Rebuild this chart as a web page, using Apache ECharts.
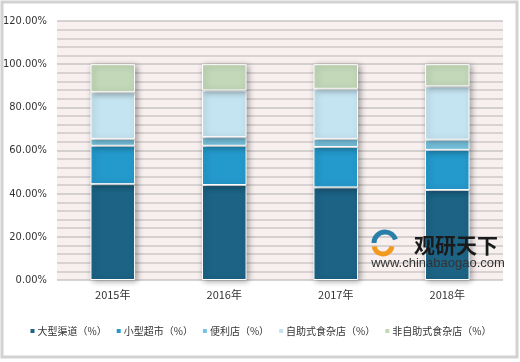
<!DOCTYPE html>
<html><head><meta charset="utf-8">
<script src="https://cdn.jsdelivr.net/npm/echarts@6/dist/echarts.min.js"></script>
<style>html,body{margin:0;padding:0;background:#fff}#c{width:520px;height:362px}</style>
</head><body><div id="c"></div>
<script>
var categories = ['2015年','2016年','2017年','2018年'];
var seriesNames = ['大型渠道（%）','小型超市（%）','便利店（%）','自助式食杂店（%）','非自助式食杂店（%）'];
var largeChannel = [44.4, 44.0, 42.9, 41.7];
var smallSupermarket = [17.8, 18.2, 18.7, 18.6];
var convenience = [3.2, 4.0, 3.8, 4.7];
var selfService = [21.6, 21.6, 23.2, 24.7];
var nonSelfService = [13.0, 12.2, 11.4, 10.3];

var colors = ['#1c6385','#2499cb','#79c4e0','#c5e4f1','#c3d8b9'];
var dataList = [largeChannel, smallSupermarket, convenience, selfService, nonSelfService];
var font = '"Noto Sans CJK SC", "DejaVu Sans", sans-serif';

var chart = echarts.init(document.getElementById('c'));
var series = dataList.map(function(d, i){
  return {
    name: seriesNames[i], type: 'bar', stack: 'total', data: d,
    barWidth: '40%',
    itemStyle: {color: colors[i], borderColor: '#ffffff', borderWidth: 1,
      shadowColor: 'rgba(0,0,0,0.35)', shadowBlur: 6, shadowOffsetX: 2, shadowOffsetY: 1}
  };
});
chart.setOption({
  animation: false,
  color: colors,
  grid: {left: 57, right: 17, top: 21, bottom: 82, backgroundColor: '#f8efef', show: true, borderWidth: 0},
  xAxis: {type: 'category', data: categories,
    axisLine: {show: false}, axisTick: {show: false},
    axisLabel: {color: '#333', fontSize: 11, fontFamily: font, margin: 9}},
  yAxis: {type: 'value', min: 0, max: 120, interval: 20,
    axisLine: {show: false}, axisTick: {show: false},
    axisLabel: {color: '#333', fontSize: 11, fontFamily: '"Liberation Sans Narrow", "DejaVu Sans Condensed", sans-serif', margin: 10,
      formatter: function(v){ return v.toFixed(2) + '%'; }},
    splitLine: {lineStyle: {color: '#c9c5c5', width: 1.5}},
    minorTick: {show: false, splitNumber: 5},
    minorSplitLine: {show: true, lineStyle: {color: '#cdc9c9', width: 1.5}}
  },
  legend: {top: 326, left: 'center', width: 510, padding: 0, itemWidth: 6, itemHeight: 6, itemGap: 8,
    icon: 'rect', textStyle: {color: '#333', fontSize: 10, fontFamily: font, padding: [0,0,0,-3]},
    data: seriesNames},
  series: series,
  graphic: [
    {type: 'rect', z: 100, shape: {x: 2, y: 2, width: 515, height: 355}, style: {fill: 'none', stroke: '#d2d2d2', lineWidth: 3}, silent: true},
    {type: 'arc', z: 100, shape: {cx: 385, cy: 243, r: 11, startAngle: Math.PI*1.0, endAngle: Math.PI*1.9}, style: {stroke: '#2a7fa8', lineWidth: 5, fill: 'none'}},
    {type: 'arc', z: 100, shape: {cx: 383, cy: 245, r: 9, startAngle: Math.PI*0.05, endAngle: Math.PI*0.95}, style: {stroke: '#f29a20', lineWidth: 5, fill: 'none'}},
    {type: 'text', z: 100, style: {x: 456, y: 245, text: '观研天下', fill: '#1a1a1a', font: 'bold 21px "Noto Sans CJK SC"', textAlign: 'center', textVerticalAlign: 'middle'}},
    {type: 'text', z: 100, style: {x: 438, y: 263, text: 'www.chinabaogao.com', fill: '#333', font: '13px "Liberation Sans", Arial', textAlign: 'center', textVerticalAlign: 'middle'}}
  ]
});
</script></body></html>
